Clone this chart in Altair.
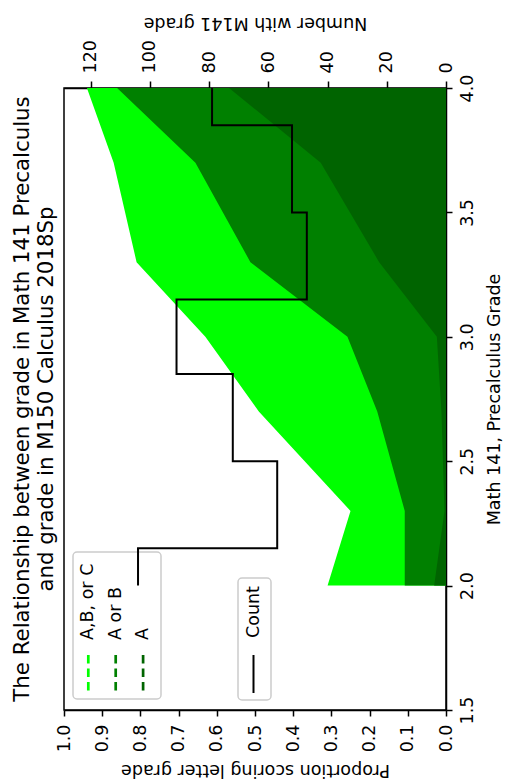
import altair as alt
import pandas as pd

# ---------------- data ----------------
grades = [2.0, 2.3, 2.7, 3.0, 3.3, 3.7, 4.0]
prop_abc = [0.31, 0.25, 0.49, 0.63, 0.81, 0.87, 0.94]
prop_ab = [0.108, 0.108, 0.18, 0.258, 0.512, 0.656, 0.861]
prop_a = [0.031, 0.004, 0.012, 0.024, 0.175, 0.328, 0.568]
counts = [104, 57, 72, 91, 47, 52, 79]

grade_ticks = [1.5, 2.0, 2.5, 3.0, 3.5, 4.0]
prop_ticks = [0.0, 0.1, 0.2, 0.3, 0.4, 0.5, 0.6, 0.7, 0.8, 0.9, 1.0]
count_ticks = [0, 20, 40, 60, 80, 100, 120]

series_labels = ["A,B, or C", "A or B", "A"]
series_colors = ["#00ff00", "#008000", "#006400"]
count_label = "Count"

title_lines = ["The Relationship between grade in Math 141 Precalculus",
               "and grade in M150 Calculus 2018Sp"]

FONT = "DejaVu Sans"
FS = 17.5
W, H = 382, 622

df = pd.DataFrame({"grade": grades, "abc": prop_abc, "ab": prop_ab, "a": prop_a})

# step (mid) path built from the counts
step_g, step_c = [grades[0]], [counts[0]]
for i in range(len(grades) - 1):
    mid = (grades[i] + grades[i + 1]) / 2
    step_g += [mid, mid]
    step_c += [counts[i], counts[i + 1]]
step_g.append(grades[-1])
step_c.append(counts[-1])
df_step = pd.DataFrame({"grade": step_g, "count": step_c, "idx": list(range(len(step_g)))})

# ---------------- scales / axes ----------------
yscale = alt.Scale(domain=[1.5, 4.0], nice=False, zero=False)
pscale = alt.Scale(domain=[0, 1], reverse=True, nice=False)
cscale = alt.Scale(domain=[0, 129], reverse=True, nice=False)

common = dict(grid=False, domain=True, domainColor="black", domainWidth=1.5,
              tickColor="black", tickWidth=1.5,
              labelFont=FONT, labelFontSize=FS, labelColor="black",
              labelFlush=False, labelOverlap=False,
              titleFont=FONT, titleFontSize=FS, titleFontWeight="normal",
              titleColor="black")

yaxis = alt.Axis(orient="right", values=grade_ticks, format=".1f", labelAngle=270,
                 labelAlign="center", labelBaseline="top", tickSize=6, labelPadding=6,
                 title="Math 141, Precalculus Grade", titleAngle=270,
                 titleBaseline="top", titlePadding=10, **common)
paxis = alt.Axis(orient="bottom", values=prop_ticks, format=".1f", labelAngle=270,
                 labelAlign="right", labelBaseline="middle", tickSize=6, labelPadding=8,
                 title="Proportion scoring letter grade", titleAngle=180,
                 titleBaseline="bottom", titlePadding=9, **common)
caxis = alt.Axis(orient="top", values=count_ticks, format="d", labelAngle=270,
                 labelAlign="left", labelBaseline="middle", tickSize=7, labelPadding=8,
                 title="Number with M141 grade", titleAngle=180,
                 titleBaseline="top", titlePadding=8, **common)

base = alt.Chart(df)
fills = alt.layer(*[
    base.mark_area(orient="horizontal", color=col).encode(
        y=alt.Y("grade:Q", scale=yscale, axis=yaxis),
        x=alt.X(f"{fld}:Q", scale=pscale, axis=paxis, title="Proportion scoring letter grade"))
    for fld, col in zip(["abc", "ab", "a"], series_colors)
])

one = alt.Chart(pd.DataFrame({"k": [0]}))

legend_layers = [
    one.mark_rect(cornerRadius=4, fill="white", fillOpacity=0.8, stroke="#cccccc",
                  strokeWidth=1.5).encode(
        x=alt.value(9), x2=alt.value(97), y=alt.value(464), y2=alt.value(611)),
    one.mark_rect(cornerRadius=4, fill="white", fillOpacity=0.8, stroke="#cccccc",
                  strokeWidth=1.5).encode(
        x=alt.value(174), x2=alt.value(207), y=alt.value(490), y2=alt.value(612)),
]
for i, (lab, col) in enumerate(zip(series_labels, series_colors)):
    xp = 24.3 + i * 27.4
    legend_layers.append(
        one.mark_rule(color=col, strokeWidth=2.7, strokeDash=[8.5, 5]).encode(
            x=alt.value(xp), y=alt.value(567), y2=alt.value(605)))
    legend_layers.append(
        one.mark_text(angle=270, align="left", baseline="middle", font=FONT,
                      fontSize=FS, color="black").encode(
            x=alt.value(xp), y=alt.value(552), text=alt.value(lab)))
legend_layers.append(
    one.mark_rule(color="black", strokeWidth=2).encode(
        x=alt.value(189.5), y=alt.value(567), y2=alt.value(605)))
legend_layers.append(
    one.mark_text(angle=270, align="left", baseline="middle", font=FONT,
                  fontSize=FS, color="black").encode(
        x=alt.value(189.5), y=alt.value(550), text=alt.value(count_label)))

step = alt.Chart(df_step).mark_line(color="black", strokeWidth=2).encode(
    y=alt.Y("grade:Q", scale=yscale, axis=yaxis),
    x=alt.X("count:Q", scale=cscale, axis=caxis),
    order=alt.Order("idx:Q"),
)

chart = alt.layer(fills, *legend_layers, step).resolve_scale(
    x="independent"
).properties(
    width=W, height=H,
    padding={"left": 64, "top": 88, "right": 61, "bottom": 72},
    autosize=alt.AutoSizeParams(type="none"),
    background="white",
    title=alt.TitleParams(text=title_lines, orient="left", anchor="middle",
                          font=FONT, fontSize=21.3, fontWeight="normal",
                          color="black", offset=-2, lineHeight=24),
).configure_view(
    stroke="black", strokeWidth=1.5
)

chart.save("out.html", embed_options={"renderer": "svg", "actions": False})
